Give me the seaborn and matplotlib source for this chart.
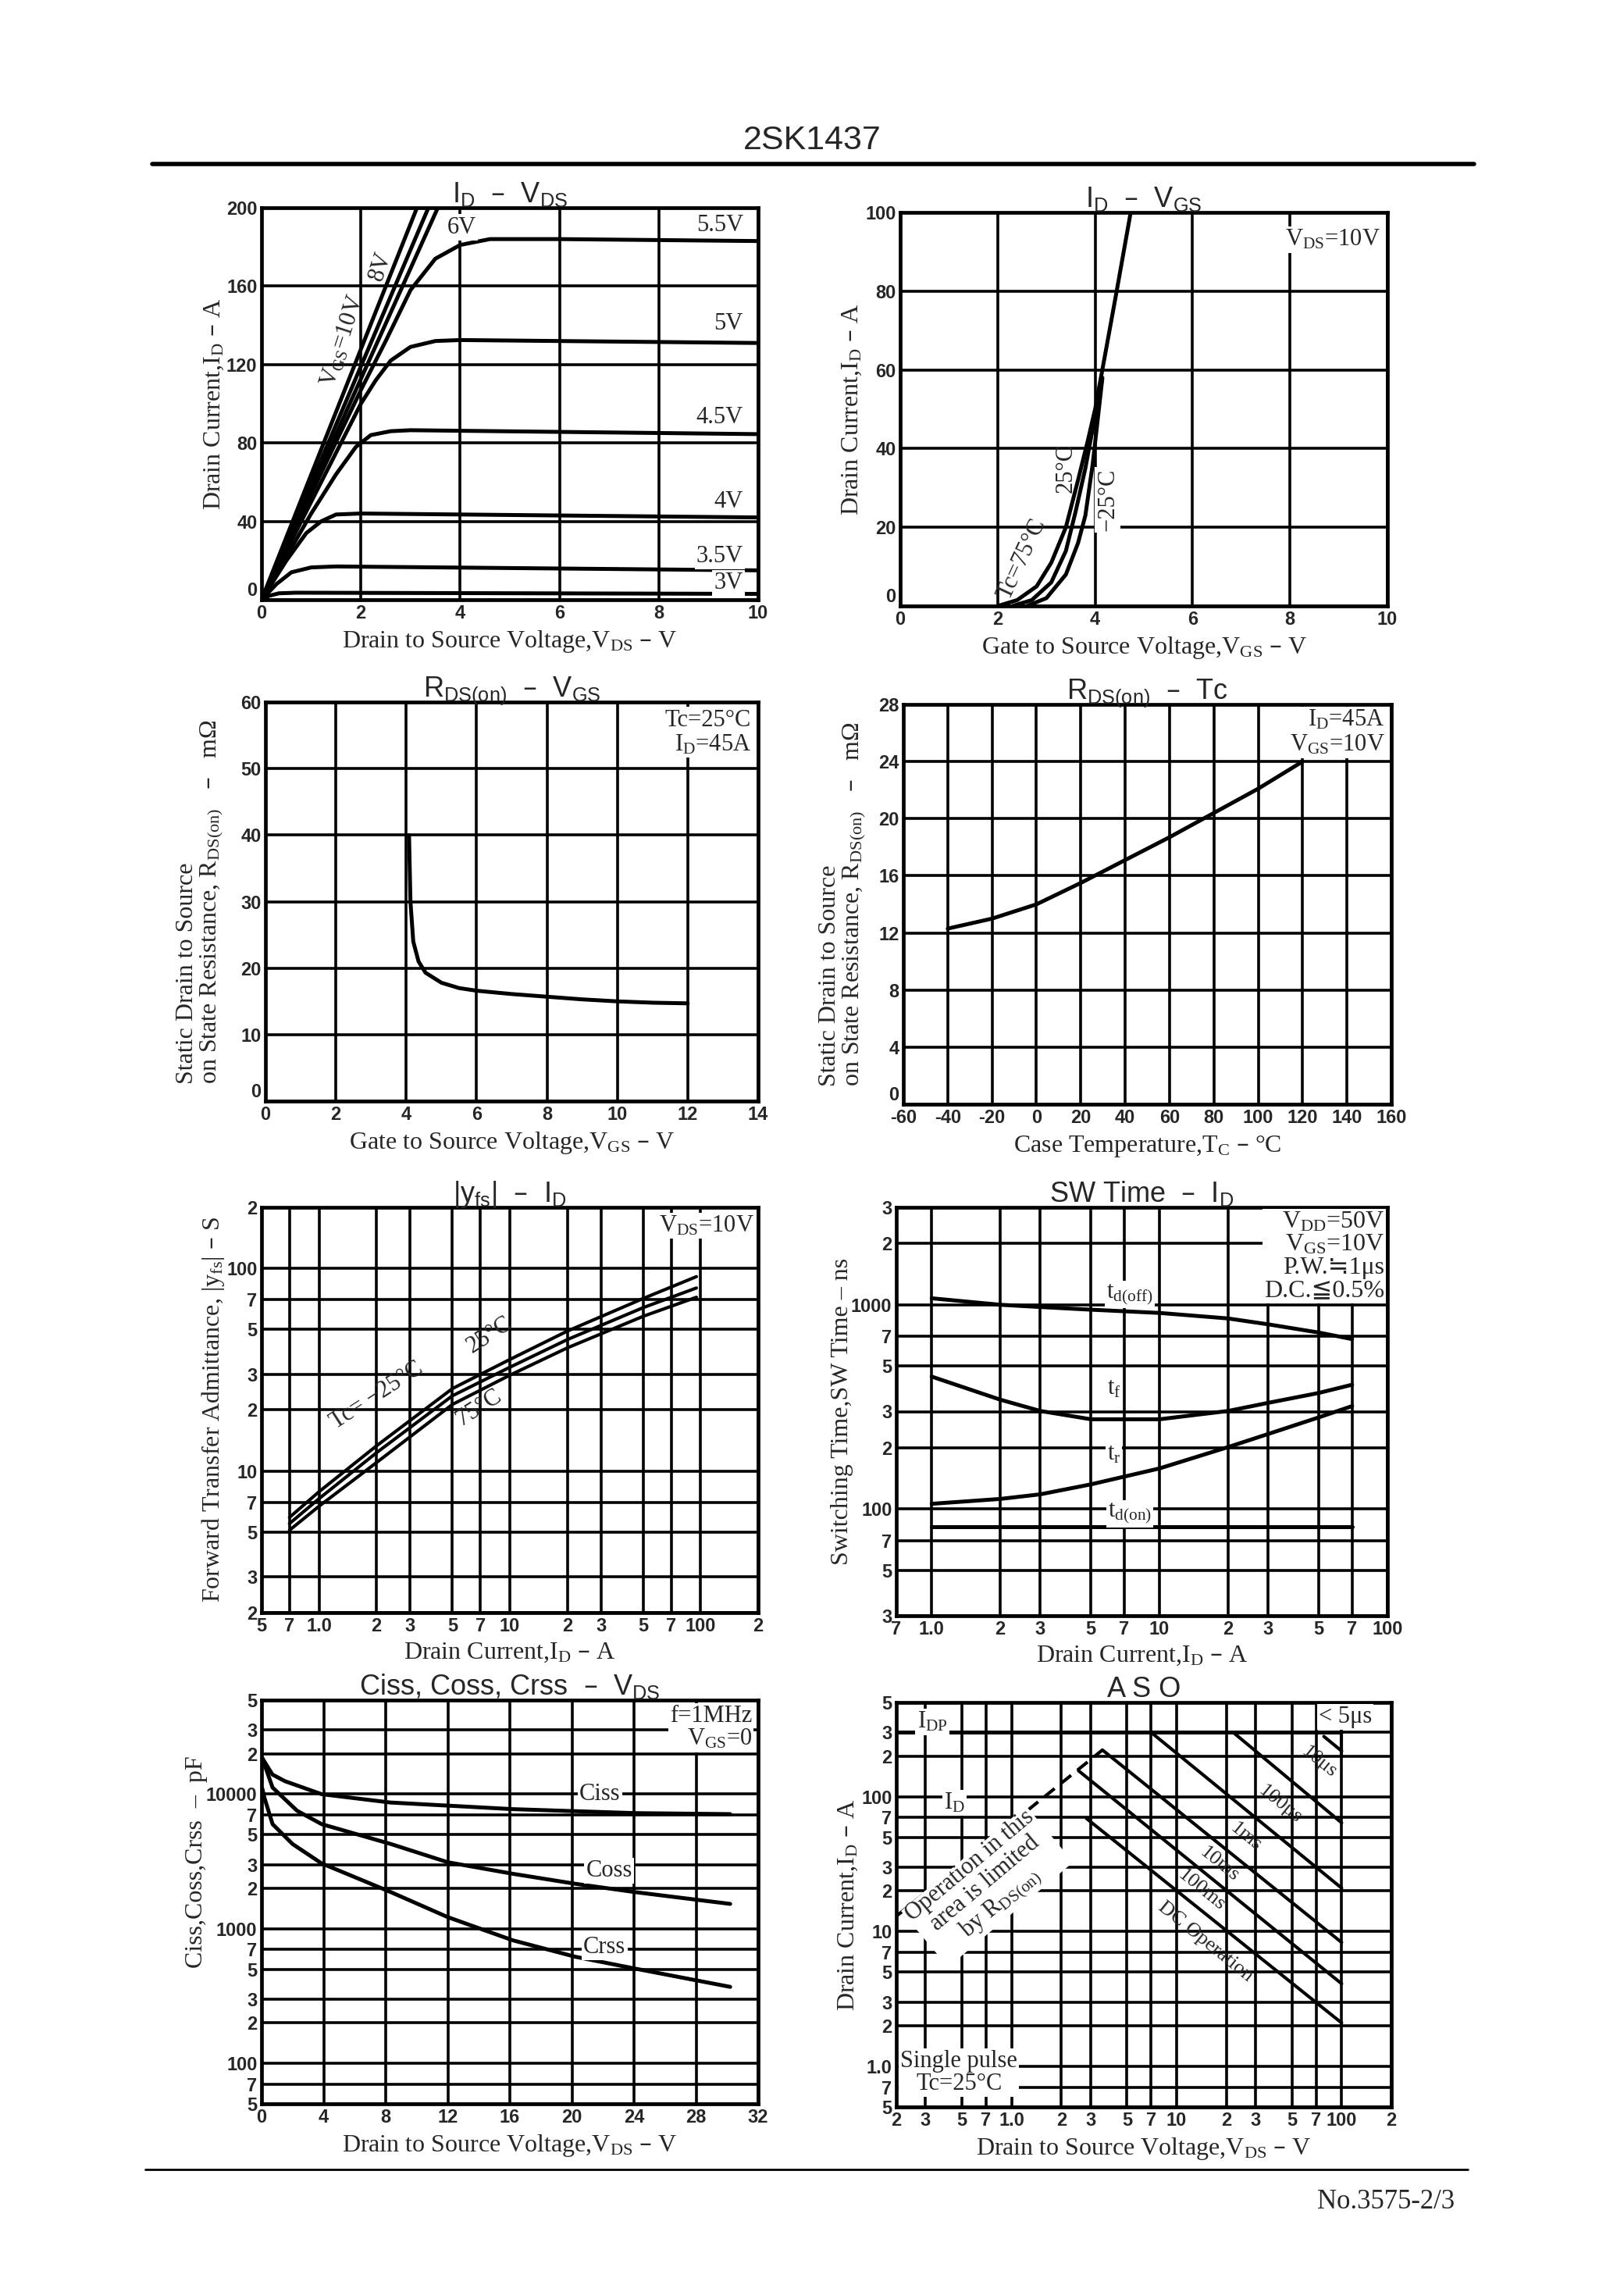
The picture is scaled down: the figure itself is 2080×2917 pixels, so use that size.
import matplotlib
matplotlib.use("Agg")
import matplotlib.pyplot as plt
import matplotlib.ticker as mticker
from matplotlib.lines import Line2D
import seaborn as sns

# ---------------- data ----------------
# I_D - V_DS  (V_DS in V, I_D in A)
vds_10v = [0.0, 3.13]
id_10v = [0, 200]
vds_8v = [0.0, 3.36]
id_8v = [0, 200]
vds_6v = [0.0, 3.55]
id_6v = [0, 200]
vds_55v = [0, 1, 2, 2.5, 3.0, 3.5, 4.0, 4.6, 6, 8, 10]
id_55v = [0, 54, 107, 132, 158, 174, 181, 184, 184, 183.5, 183]
vds_5v = [0, 1, 2, 2.3, 2.6, 3.0, 3.5, 4, 10]
id_5v = [0, 50, 100, 112, 122, 129, 132, 132.5, 131]
vds_45v = [0, 1, 1.5, 1.9, 2.2, 2.6, 3, 10]
id_45v = [0, 44, 64, 78, 84, 86, 86.5, 84.5]
vds_4v = [0, 0.5, 0.9, 1.2, 1.5, 2, 10]
id_4v = [0, 20, 34, 40, 43.5, 44, 42]
vds_35v = [0, 0.3, 0.6, 1.0, 1.5, 10]
id_35v = [0, 8, 14, 16.5, 17, 15]
vds_3v = [0, 0.15, 0.35, 0.7, 10]
id_3v = [0, 2, 3.3, 3.6, 3.0]

# I_D - V_GS
vgs_75c = [2.0, 2.4, 2.8, 3.1, 3.4, 3.65, 3.85, 4.0, 4.2, 4.45, 4.73]
idg_75c = [0, 1.5, 5, 11, 20, 32, 42, 50, 63.5, 80.5, 100]
vgs_25c = [2.3, 2.7, 3.1, 3.4, 3.6, 3.8, 3.95, 4.05]
idg_25c = [0, 1.5, 6, 14, 24, 35, 45, 53]
vgs_m25c = [2.6, 3.0, 3.4, 3.65, 3.8, 3.95, 4.05, 4.15]
idg_m25c = [0, 2, 8, 16, 23, 36, 47, 58]

# R_DS(on) - V_GS  (mOhm)
vgs_r = [4.08, 4.12, 4.2, 4.35, 4.55, 5.0, 5.5, 6, 7, 8, 9, 10, 11, 12]
rds_vgs = [40, 30, 24, 21, 19.3, 17.8, 17.0, 16.6, 16.1, 15.7, 15.3, 15.0, 14.8, 14.7]

# R_DS(on) - Tc
tc = [-40, -20, 0, 20, 40, 60, 80, 100, 120]
rds_tc = [12.3, 13.0, 14.0, 15.5, 17.1, 18.7, 20.4, 22.1, 24.0]

# |yfs| - I_D
id_yfs = [0.7, 1.0, 2, 5, 10, 20, 50, 95]
yfs_m25c = [5.9, 7.9, 13.3, 25.5, 35.5, 49, 71, 91]
yfs_25c = [5.5, 7.3, 12.3, 23.5, 32.5, 44.5, 64, 80]
yfs_75c = [5.1, 6.7, 11.0, 21.3, 29.7, 40.5, 58, 72]

# SW time - I_D  (ns)
id_sw = [1.0, 2, 3, 5, 10, 20, 30, 50, 70]
t_doff = [1076, 1000, 975, 946, 912, 857, 802, 731, 679]
t_f = [445, 343, 302, 275, 275, 302, 331, 370, 406]
t_r = [106, 112, 118, 132, 158, 201, 233, 281, 319]
id_don = [1.0, 70]
t_don = [82, 82]

# Ciss, Coss, Crss - V_DS  (pF)
vds_ciss = [0.05, 0.7, 1.5, 3.87, 8.3, 16.2, 24.1, 30.2]
ciss = [18500, 14000, 12500, 10000, 8670, 7740, 7230, 7110]
vds_coss = [0.05, 0.71, 2.29, 3.87, 8.34, 12.0, 16.2, 20.2, 24.1, 30.2]
coss = [18500, 11200, 7530, 5990, 4260, 3120, 2560, 2160, 1870, 1530]
vds_crss = [0.05, 0.18, 0.71, 2.0, 3.87, 8.34, 12.0, 16.2, 20.2, 24.1, 30.2]
crss = [11000, 9450, 5990, 4260, 3060, 1870, 1220, 820, 620, 505, 370]

# ASO
v_rds_lim = [0.2, 3.55]
i_rds_lim = [13, 222]
v_idp = [0.2, 100]
i_idp = [300, 300]
v_10us = [78, 100]
i_10us = [280, 218]
v_vdss = [100, 100]
i_vdss = [300, 200]
v_100us = [22, 100]
i_100us = [300, 64]
v_1ms = [7.0, 100]
i_1ms = [300, 21]
v_10ms = [3.55, 100]
i_10ms = [222, 8.3]
v_100ms = [2.54, 100]
i_100ms = [156, 4.1]
v_dc = [2.84, 100]
i_dc = [69, 2.1]

# ---------------- style ----------------
sns.set_theme(style="white")
SERIF = ["Liberation Serif", "DejaVu Sans"]
SANS = ["Liberation Sans", "DejaVu Sans"]
NARROW = ["Liberation Sans Narrow", "Liberation Sans", "DejaVu Sans"]
plt.rcParams["font.family"] = SERIF
plt.rcParams["mathtext.default"] = "regular"

W, H = 2080, 2917
fig = plt.figure(figsize=(W / 100, H / 100), dpi=100)
fig.patch.set_facecolor("white")

CURVE_LW = 3.6
GRID_LW = 2.6
TICK_FS = 17
LAB_FS = 23
TITLE_FS = 26
TXT_FS = 22
WHITE = dict(facecolor="white", edgecolor="none", pad=1.5)


def make_ax(l, t, r, b):
    return fig.add_axes([l / W, 1 - b / H, (r - l) / W, (b - t) / H])


def style(ax, title, xlabel, ylabel, ylab_x, xticks, xlabels, yticks, ylabels,
          xlim, ylim, logx=False, logy=False, ylab_y=0.5):
    if logx:
        ax.set_xscale("log")
    if logy:
        ax.set_yscale("log")
    ax.set_xlim(*xlim)
    ax.set_ylim(*ylim)
    ax.xaxis.set_major_locator(mticker.FixedLocator(xticks))
    ax.yaxis.set_major_locator(mticker.FixedLocator(yticks))
    ax.xaxis.set_minor_locator(mticker.NullLocator())
    ax.yaxis.set_minor_locator(mticker.NullLocator())
    ax.set_xticklabels(xlabels, fontsize=TICK_FS, fontweight="bold", family=NARROW)
    ax.set_yticklabels(ylabels, fontsize=TICK_FS, fontweight="bold", family=NARROW)
    if not logy:
        ax.get_yticklabels()[0].set_va("bottom")
    ax.tick_params(length=0, pad=4)
    ax.grid(True, which="major", color="black", lw=GRID_LW)
    ax.set_axisbelow(True)
    for s in ax.spines.values():
        s.set_color("black")
        s.set_linewidth(3.4)
    ax.set_title(title, fontsize=TITLE_FS, family=SANS, pad=5)
    ax.set_xlabel(xlabel, fontsize=LAB_FS, family=SERIF, labelpad=6)
    ax.set_ylabel(ylabel, fontsize=LAB_FS, family=SERIF, linespacing=1.0,
                  multialignment="left")
    ax.yaxis.set_label_coords(ylab_x, ylab_y)


def curve(ax, x, y, lw=CURVE_LW, ls="-"):
    sns.lineplot(x=x, y=y, ax=ax, color="black", lw=lw, linestyle=ls,
                 estimator=None, sort=False, legend=False)


def label(ax, x, y, s, size=TXT_FS, rot=0, ha="center", va="center", bg=True, **kw):
    ax.text(x, y, s, fontsize=size, rotation=rot, ha=ha, va=va, family=SERIF,
            bbox=WHITE if bg else None, zorder=6, rotation_mode="anchor", **kw)


# header / footer
fig.text(1040 / W, 1 - 180 / H, "2SK1437", ha="center", va="center",
         fontsize=31, family=SANS)
fig.add_artist(Line2D([195 / W, 1888 / W], [1 - 210 / H] * 2, lw=4, color="black"))
fig.add_artist(Line2D([186 / W, 1880 / W], [1 - 2778 / H] * 2, lw=2, color="black"))
fig.text(1775 / W, 1 - 2819 / H, "No.3575-2/3", ha="center", va="center",
         fontsize=25, family=SERIF)

# ---------------- panel 1: I_D - V_DS ----------------
ax = make_ax(335, 266, 971, 768)
style(ax, "I$_D$  –  V$_{DS}$", "Drain to Source Voltage,V$_{DS}$ – V",
      "Drain Current,I$_D$ – A", -0.073,
      [0, 2, 4, 6, 8, 10], ["0", "2", "4", "6", "8", "10"],
      [0, 40, 80, 120, 160, 200], ["0", "40", "80", "120", "160", "200"],
      (0, 10), (0, 200))
for x, y in [(vds_10v, id_10v), (vds_8v, id_8v), (vds_6v, id_6v), (vds_55v, id_55v),
             (vds_5v, id_5v), (vds_45v, id_45v), (vds_4v, id_4v), (vds_35v, id_35v),
             (vds_3v, id_3v)]:
    curve(ax, x, y)
for y, s in [(191, "5.5V"), (141, "5V"), (93, "4.5V"), (50, "4V"), (22, "3.5V"), (8.5, "3V")]:
    label(ax, 9.7, y, s, ha="right")
label(ax, 4.03, 190, "6V")
label(ax, 1.64, 132, "V$_{GS}$=10V", rot=72, bg=False)
label(ax, 2.4, 170, "8V", rot=72, bg=False)

# ---------------- panel 2: I_D - V_GS ----------------
ax = make_ax(1153, 272, 1777, 776)
style(ax, "I$_D$  –  V$_{GS}$", "Gate to Source Voltage,V$_{GS}$ – V",
      "Drain Current,I$_D$ – A", -0.075,
      [0, 2, 4, 6, 8, 10], ["0", "2", "4", "6", "8", "10"],
      [0, 20, 40, 60, 80, 100], ["0", "20", "40", "60", "80", "100"],
      (0, 10), (0, 100))
for x, y in [(vgs_75c, idg_75c), (vgs_25c, idg_25c), (vgs_m25c, idg_m25c)]:
    curve(ax, x, y)
label(ax, 9.85, 96, "V$_{DS}$=10V", ha="right", va="top")
label(ax, 2.5, 12, "Tc=75°C", rot=65, bg=False)
label(ax, 3.4, 35, "25°C", rot=90, bg=False)
label(ax, 4.26, 27, "−25°C", rot=90)

# ---------------- panel 3: R_DS(on) - V_GS ----------------
ax = make_ax(340, 899, 971, 1410)
style(ax, "R$_{DS(on)}$  –  V$_{GS}$", "Gate to Source Voltage,V$_{GS}$ – V",
      "Static Drain to Source\non State Resistance, R$_{DS(on)}$   –   mΩ", -0.083,
      list(range(0, 15, 2)), [str(v) for v in range(0, 15, 2)],
      list(range(0, 61, 10)), [str(v) for v in range(0, 61, 10)],
      (0, 14), (0, 60))
curve(ax, vgs_r, rds_vgs)
label(ax, 13.8, 59, "Tc=25°C\nI$_D$=45A", ha="right", va="top", linespacing=1.1)

# ---------------- panel 4: R_DS(on) - Tc ----------------
ax = make_ax(1157, 902, 1782, 1414)
style(ax, "R$_{DS(on)}$  –  Tc", "Case Temperature,T$_C$ – °C",
      "Static Drain to Source\non State Resistance, R$_{DS(on)}$   –   mΩ", -0.074,
      list(range(-60, 161, 20)), [str(v) for v in range(-60, 161, 20)],
      list(range(0, 29, 4)), [str(v) for v in range(0, 29, 4)],
      (-60, 160), (0, 28))
curve(ax, tc, rds_tc)
label(ax, 157, 27.7, "I$_D$=45A\nV$_{GS}$=10V", ha="right", va="top", linespacing=1.1)

# ---------------- panel 5: |yfs| - I_D ----------------
ax = make_ax(335, 1546, 971, 2065)
style(ax, "|y$_{fs}$|  –  I$_D$", "Drain Current,I$_D$ – A",
      "Forward Transfer Admittance, |y$_{fs}$| – S", -0.07,
      [0.5, 0.7, 1, 2, 3, 5, 7, 10, 20, 30, 50, 70, 100, 200],
      ["5", "7", "1.0", "2", "3", "5", "7", "10", "2", "3", "5", "7", "100", "2"],
      [2, 3, 5, 7, 10, 20, 30, 50, 70, 100, 200],
      ["2", "3", "5", "7", "10", "2", "3", "5", "7", "100", "2"],
      (0.5, 200), (2, 200), logx=True, logy=True)
for y in [yfs_m25c, yfs_25c, yfs_75c]:
    curve(ax, id_yfs, y, lw=3.0)
label(ax, 190, 185, "V$_{DS}$=10V", ha="right", va="top")
label(ax, 2.0, 23.5, "Tc= −25°C", rot=33, bg=False)
label(ax, 7.8, 47, "25°C", rot=33, bg=False)
label(ax, 6.9, 20.5, "75°C", rot=33, bg=False)

# ---------------- panel 6: SW time - I_D ----------------
ax = make_ax(1148, 1546, 1777, 2069)
style(ax, "SW Time  –  I$_D$", "Drain Current,I$_D$ – A",
      "Switching Time,SW Time – ns", -0.088,
      [0.7, 1, 2, 3, 5, 7, 10, 20, 30, 50, 70, 100],
      ["7", "1.0", "2", "3", "5", "7", "10", "2", "3", "5", "7", "100"],
      [30, 50, 70, 100, 200, 300, 500, 700, 1000, 2000, 3000],
      ["3", "5", "7", "100", "2", "3", "5", "7", "1000", "2", "3"],
      (0.7, 100), (30, 3000), logx=True, logy=True)
for y in [t_doff, t_f, t_r]:
    curve(ax, id_sw, y)
curve(ax, id_don, t_don)
label(ax, 97, 2900, "V$_{DD}$=50V\nV$_{GS}$=10V\nP.W.≒1μs\nD.C.≦0.5%",
      size=23, ha="right", va="top", linespacing=1.0)
label(ax, 7.4, 1120, "t$_{d(off)}$")
label(ax, 6.3, 390, "t$_f$")
label(ax, 6.3, 185, "t$_r$")
label(ax, 7.4, 95, "t$_{d(on)}$")

# ---------------- panel 7: Ciss, Coss, Crss - V_DS ----------------
ax = make_ax(335, 2177, 971, 2694)
style(ax, "Ciss, Coss, Crss  –  V$_{DS}$", "Drain to Source Voltage,V$_{DS}$ – V",
      "Ciss,Coss,Crss  –  pF", -0.108,
      list(range(0, 33, 4)), [str(v) for v in range(0, 33, 4)],
      [50, 70, 100, 200, 300, 500, 700, 1000, 2000, 3000, 5000, 7000, 10000, 20000,
       30000, 50000],
      ["5", "7", "100", "2", "3", "5", "7", "1000", "2", "3", "5", "7", "10000", "2",
       "3", "5"],
      (0, 32), (50, 50000), logy=True, ylab_y=0.6)
for x, y in [(vds_ciss, ciss), (vds_coss, coss), (vds_crss, crss)]:
    curve(ax, x, y)
label(ax, 31.6, 46000, "f=1MHz\nV$_{GS}$=0", ha="right", va="top", linespacing=1.0)
label(ax, 21.8, 10000, "Ciss")
label(ax, 22.4, 2700, "Coss")
label(ax, 22.1, 730, "Crss")

# ---------------- panel 8: ASO ----------------
ax = make_ax(1148, 2180, 1782, 2698)
style(ax, "A S O", "Drain to Source Voltage,V$_{DS}$ – V",
      "Drain Current,I$_D$ – A", -0.074,
      [0.2, 0.3, 0.5, 0.7, 1, 2, 3, 5, 7, 10, 20, 30, 50, 70, 100, 200],
      ["2", "3", "5", "7", "1.0", "2", "3", "5", "7", "10", "2", "3", "5", "7", "100", "2"],
      [0.5, 0.7, 1, 2, 3, 5, 7, 10, 20, 30, 50, 70, 100, 200, 300, 500],
      ["5", "7", "1.0", "2", "3", "5", "7", "10", "2", "3", "5", "7", "100", "2", "3", "5"],
      (0.2, 200), (0.5, 500), logx=True, logy=True)
curve(ax, v_rds_lim, i_rds_lim, lw=3.0, ls=(0, (4, 2.5)))
curve(ax, v_idp, i_idp)
for x, y in [(v_10us, i_10us), (v_vdss, i_vdss), (v_100us, i_100us), (v_1ms, i_1ms),
             (v_10ms, i_10ms), (v_100ms, i_100ms), (v_dc, i_dc)]:
    curve(ax, x, y, lw=3.0)
ASO_FS = 19
label(ax, 0.33, 360, "I$_{DP}$")
label(ax, 0.45, 90, "I$_D$")
label(ax, 105, 390, "< 5μs")
label(ax, 72.5, 180, "10μs", size=ASO_FS, rot=-39, bg=False)
label(ax, 42.4, 88, "100μs", size=ASO_FS, rot=-39, bg=False)
label(ax, 26.2, 50, "1ms", size=ASO_FS, rot=-39, bg=False)
label(ax, 18.1, 31.5, "10ms", size=ASO_FS, rot=-39, bg=False)
label(ax, 14.2, 20.3, "100ms", size=ASO_FS, rot=-39, bg=False)
label(ax, 15.0, 8.4, "DC Operation", size=ASO_FS, rot=-39, bg=False)
label(ax, 0.7, 22, "Operation in this\narea is limited\nby R$_{DS(on)}$", rot=40,
      linespacing=1.0)
label(ax, 0.48, 0.9, "Single pulse\nTc=25°C", linespacing=1.0)

fig.savefig("out.png", dpi=100, facecolor="white")
